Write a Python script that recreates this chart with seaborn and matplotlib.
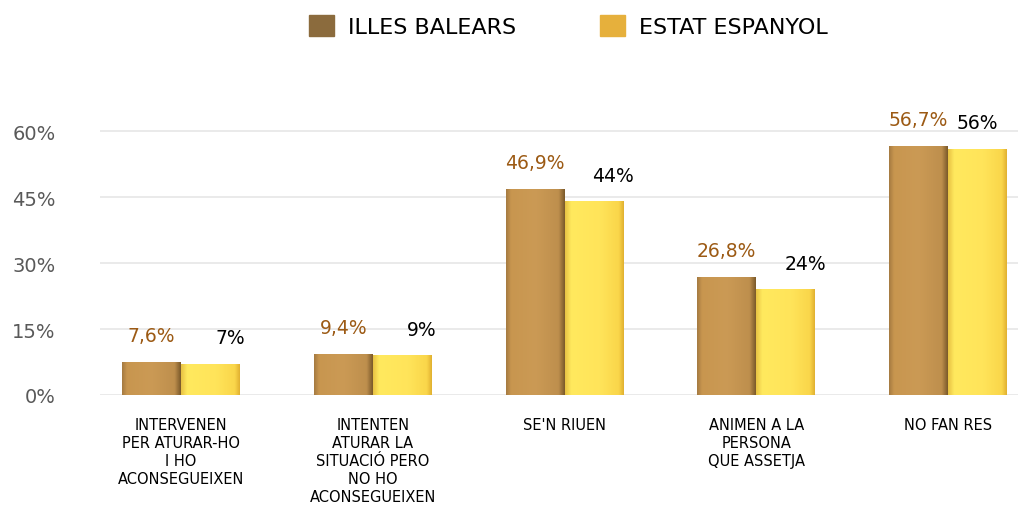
import numpy as np
import pandas as pd
import matplotlib
matplotlib.use("Agg")
import matplotlib.pyplot as plt
from matplotlib.patches import Patch
from matplotlib.colors import LinearSegmentedColormap
import seaborn as sns

#%% Data

categories = ["INTERVENEN\nPER ATURAR-HO\nI HO\nACONSEGUEIXEN",
              "INTENTEN\nATURAR LA\nSITUACIÓ PERO\nNO HO\nACONSEGUEIXEN",
              "SE'N RIUEN",
              "ANIMEN A LA\nPERSONA\nQUE ASSETJA",
              "NO FAN RES"]
series = ["ILLES BALEARS", "ESTAT ESPANYOL"]
balears = [7.6, 9.4, 46.9, 26.8, 56.7]
espanyol = [7, 9, 44, 24, 56]
balears_labels = ["7,6%", "9,4%", "46,9%", "26,8%", "56,7%"]
espanyol_labels = ["7%", "9%", "44%", "24%", "56%"]
y_ticks = [0, 15, 30, 45, 60]

df = pd.DataFrame({
    "cat": categories * 2,
    "val": balears + espanyol,
    "serie": [series[0]] * 5 + [series[1]] * 5,
})

#%% Plot

sns.set_style("white")
plt.rcParams["font.family"] = ["DejaVu Sans"]
plt.rcParams["text.color"] = "black"

fig = plt.figure(figsize=(10.18, 5.10), dpi=100)
ax = fig.add_axes([100 / 1018, 114 / 510, 918 / 1018, 286 / 510])

sns.barplot(data=df, x="cat", y="val", hue="serie", order=categories,
            hue_order=series, palette=["#C8964E", "#FFE055"],
            width=0.615, gap=0, saturation=1, legend=False, ax=ax,
            edgecolor="none", zorder=2)

ax.set_yticks(y_ticks)
ax.set_yticklabels([f"{t}%" for t in y_ticks], color="#595959", fontsize=14)
ax.yaxis.grid(True, color="#E6E6E6", linewidth=1.2, zorder=0)
ax.tick_params(axis="y", length=0, pad=32)
ax.tick_params(axis="x", length=0, pad=16, labelsize=10.5, labelcolor="black")
for lbl in ax.get_xticklabels():
    lbl.set_verticalalignment("top")
    lbl.set_linespacing(1.25)
ax.set_xlabel("")
ax.set_ylabel("")
sns.despine(ax=ax, left=True, bottom=True)

# shaded "3d" look on the bars
cmaps = [LinearSegmentedColormap.from_list(
             "b", [(0, "#A77C42"), (0.08, "#C8964F"), (0.5, "#CB9A55"),
                   (0.9, "#BE8F4D"), (1, "#7E5C2C")]),
         LinearSegmentedColormap.from_list(
             "e", [(0, "#E9C445"), (0.1, "#FFE95E"), (0.6, "#FFE45A"),
                   (0.92, "#FAD64A"), (1, "#E2B332")])]
grad = np.linspace(0, 1, 64).reshape(1, -1)
n = len(categories)
for i, bar in enumerate(ax.patches[:2 * n]):
    x0, y0 = bar.get_x(), bar.get_y()
    w, h = bar.get_width(), bar.get_height()
    im = ax.imshow(grad, cmap=cmaps[i // n], aspect="auto",
                   extent=[x0, x0 + w, y0, y0 + h], zorder=3)
    im.set_clip_path(bar)

ax.set_xlim(-0.4224, 4.365)
ax.set_ylim(0, 65)

# value labels
for i in range(n):
    bb = ax.patches[i]
    be = ax.patches[n + i]
    ax.annotate(balears_labels[i], (bb.get_x() + bb.get_width() / 2, balears[i]),
                xytext=(0, 19), textcoords="offset points", ha="center",
                va="center", fontsize=13.5, color="#9C5A14")
    dx = 14 if i < n - 1 else 0
    ax.annotate(espanyol_labels[i], (be.get_x() + be.get_width() / 2, espanyol[i]),
                xytext=(dx, 19), textcoords="offset points", ha="center",
                va="center", fontsize=13.5, color="black")

handles = [Patch(color="#8B6B3D"), Patch(color="#E6B03C")]
fig.legend(handles, series, loc="center", bbox_to_anchor=(0.5585, 0.947), ncol=2,
           frameon=False, fontsize=16, handlelength=1.1, handleheight=1.1,
           columnspacing=3.8, handletextpad=0.63, labelcolor="black")

fig.savefig("out.png", dpi=100)
